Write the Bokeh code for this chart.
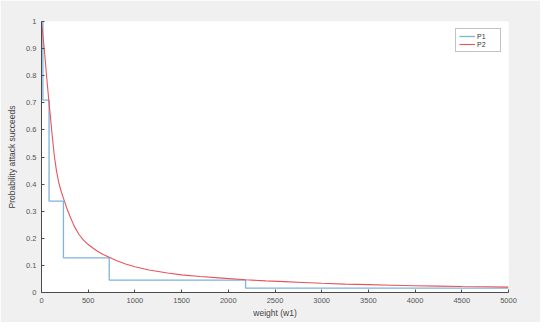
from bokeh.plotting import figure
from bokeh.models import FixedTicker, Legend, LegendItem
from bokeh.embed import file_html
from bokeh.resources import INLINE

# P1: step function (breakpoints in weight, probability)
p1_w = [0, 15, 81, 235, 725, 2185, 5000]
p1_p = [1.0, 0.71, 0.337, 0.128, 0.046, 0.016, 0.016]

# P2: smooth decreasing curve (read points)
p2_w = [0, 15, 29, 42, 54, 66, 78, 95, 110, 125, 139, 160, 185, 213, 243,
        270, 300, 350, 400, 450, 500, 550, 600, 660, 725, 800, 900, 1000,
        1150, 1350, 1500, 1700, 1900, 2185, 2400, 2600, 2800, 3000, 3250,
        3500, 3750, 4000, 4250, 4500, 4750, 5000]
p2_p = [1.0, 0.95, 0.9, 0.85, 0.8, 0.755, 0.71, 0.65, 0.595, 0.545, 0.5,
        0.45, 0.405, 0.37, 0.34, 0.312, 0.285, 0.245, 0.215, 0.193, 0.177,
        0.164, 0.152, 0.14, 0.13, 0.118, 0.105, 0.095, 0.083, 0.072, 0.065,
        0.059, 0.054, 0.047, 0.043, 0.04, 0.037, 0.034, 0.031, 0.029, 0.027,
        0.025, 0.0235, 0.022, 0.021, 0.02]

x_ticks = [0, 500, 1000, 1500, 2000, 2500, 3000, 3500, 4000, 4500, 5000]
y_ticks = [0, 0.1, 0.2, 0.3, 0.4, 0.5, 0.6, 0.7, 0.8, 0.9, 1]
y_labels = ["0", "0.1", "0.2", "0.3", "0.4", "0.5", "0.6", "0.7", "0.8", "0.9", "1"]

FONT = "Liberation Sans"
AXC = "#4a4a4a"

p = figure(width=540, height=322, x_range=(0, 5000), y_range=(0, 1),
           output_backend="svg", toolbar_location=None,
           min_border_left=41, min_border_right=32, min_border_top=21,
           min_border_bottom=30)
p.background_fill_color = "white"
p.border_fill_color = "#f0f0f0"
p.outline_line_color = None
p.xgrid.visible = False
p.ygrid.visible = False

r1 = p.step(p1_w, p1_p, mode="after", line_color="#7db3dc", line_width=1.3)
r2 = p.line(p2_w, p2_p, line_color="#e8545c", line_width=1.1)

for ax in (p.xaxis[0], p.yaxis[0]):
    ax.axis_line_color = AXC
    ax.major_tick_line_color = AXC
    ax.major_tick_in = 3
    ax.major_tick_out = 0
    ax.minor_tick_line_color = None
    ax.major_label_text_font = FONT
    ax.major_label_text_font_size = "7.5px"
    ax.major_label_text_color = "#555555"
    ax.axis_label_text_font = FONT
    ax.axis_label_text_font_size = "8.5px"
    ax.axis_label_text_font_style = "normal"
    ax.axis_label_text_color = "#444444"

p.xaxis.ticker = FixedTicker(ticks=x_ticks)
p.yaxis.ticker = FixedTicker(ticks=y_ticks)
p.yaxis.major_label_overrides = {t: l for t, l in zip(y_ticks, y_labels)}
p.xaxis.axis_label = "weight (w1)"
p.yaxis.axis_label = "Probability attack succeeds"
p.xaxis.major_label_standoff = 5
p.yaxis.major_label_standoff = 5
p.xaxis.axis_label_standoff = 2
p.yaxis.axis_label_standoff = 6

legend = Legend(items=[LegendItem(label="P1", renderers=[r1]),
                       LegendItem(label="P2", renderers=[r2])],
                location="top_right")
legend.margin = 7
legend.padding = 3
legend.spacing = 0
legend.label_text_font = FONT
legend.label_text_font_size = "7px"
legend.label_text_color = "#333333"
legend.label_height = 8
legend.glyph_height = 8
legend.glyph_width = 16
legend.label_standoff = 2
legend.border_line_color = "#888888"
legend.background_fill_color = "white"
p.add_layout(legend)

open("out.html", "w").write(file_html(p, INLINE))
